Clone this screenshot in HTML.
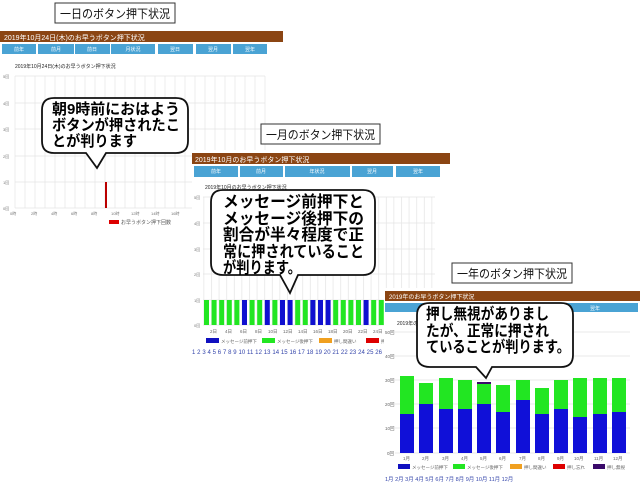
<!DOCTYPE html>
<html><head><meta charset="utf-8"><style>
html,body{margin:0;padding:0;background:#fff;width:640px;height:483px;overflow:hidden}
svg{display:block;font-family:"Liberation Sans","Noto Sans CJK JP",sans-serif}
</style></head><body>
<svg width="640" height="483" viewBox="0 0 640 483" xmlns="http://www.w3.org/2000/svg">
<defs>
<pattern id="vg" x="203.5" y="0" width="7.6" height="10" patternUnits="userSpaceOnUse"><rect x="0" y="0" width="0.7" height="10" fill="#e4e4e4"/></pattern>
</defs>
<!-- Panel 1 -->
<rect x="55" y="3" width="120" height="20" fill="#fff" stroke="#333"/>
<text x="60" y="18" font-size="12" textLength="110" lengthAdjust="spacingAndGlyphs" fill="#111">一日のボタン押下状況</text>
<rect x="0" y="31" width="283" height="11" fill="#8b4513"/>
<text x="4" y="40" font-size="7" fill="#fff">2019年10月24日(木)のお早うボタン押下状況</text>
<g fill="#4aa3d4">
<rect x="2" y="44" width="34" height="10"/><rect x="38" y="44" width="36" height="10"/><rect x="75" y="44" width="35" height="10"/><rect x="111" y="44" width="44" height="10"/><rect x="158" y="44" width="35" height="10"/><rect x="196" y="44" width="35" height="10"/><rect x="233" y="44" width="34" height="10"/>
</g>
<g font-size="5" fill="#fff" text-anchor="middle"><text x="19" y="51">前年</text><text x="56" y="51">前月</text><text x="92" y="51">前日</text><text x="133" y="51">月状況</text><text x="175" y="51">翌日</text><text x="213" y="51">翌月</text><text x="250" y="51">翌年</text></g>
<text x="15" y="68" font-size="5" fill="#222">2019年10月24日(木)のお早うボタン押下状況</text>
<g stroke="#e4e4e4" stroke-width="0.7">
<line x1="15" y1="76" x2="265" y2="76"/><line x1="15" y1="103" x2="265" y2="103"/><line x1="15" y1="129" x2="265" y2="129"/><line x1="15" y1="156" x2="265" y2="156"/><line x1="15" y1="182" x2="265" y2="182"/><line x1="15" y1="208" x2="265" y2="208"/>
<line x1="15" y1="76" x2="15" y2="208"/><line x1="25" y1="76" x2="25" y2="208"/><line x1="35" y1="76" x2="35" y2="208"/><line x1="45" y1="76" x2="45" y2="208"/><line x1="55" y1="76" x2="55" y2="208"/><line x1="65" y1="76" x2="65" y2="208"/><line x1="75" y1="76" x2="75" y2="208"/><line x1="85" y1="76" x2="85" y2="208"/><line x1="95" y1="76" x2="95" y2="208"/><line x1="105" y1="76" x2="105" y2="208"/><line x1="115" y1="76" x2="115" y2="208"/><line x1="125" y1="76" x2="125" y2="208"/><line x1="135" y1="76" x2="135" y2="208"/><line x1="145" y1="76" x2="145" y2="208"/><line x1="155" y1="76" x2="155" y2="208"/><line x1="165" y1="76" x2="165" y2="208"/><line x1="175" y1="76" x2="175" y2="208"/><line x1="185" y1="76" x2="185" y2="208"/><line x1="195" y1="76" x2="195" y2="208"/><line x1="205" y1="76" x2="205" y2="208"/><line x1="215" y1="76" x2="215" y2="208"/><line x1="225" y1="76" x2="225" y2="208"/><line x1="235" y1="76" x2="235" y2="208"/><line x1="245" y1="76" x2="245" y2="208"/><line x1="255" y1="76" x2="255" y2="208"/><line x1="265" y1="76" x2="265" y2="208"/>
</g>
<g font-size="4" fill="#777"><text x="3" y="78">5回</text><text x="3" y="105">4回</text><text x="3" y="131">3回</text><text x="3" y="158">2回</text><text x="3" y="184">1回</text><text x="3" y="210">0回</text>
<text x="10" y="215">0時</text><text x="31" y="215">2時</text><text x="51" y="215">4時</text><text x="71" y="215">6時</text><text x="91" y="215">8時</text><text x="111" y="215">10時</text><text x="131" y="215">12時</text><text x="151" y="215">14時</text><text x="171" y="215">16時</text></g>
<rect x="105" y="182" width="2" height="26" fill="#b00"/>
<rect x="109" y="220" width="10" height="4" fill="#d00"/><text x="121" y="224" font-size="5" fill="#555">お早うボタン押下回数</text>

<!-- Panel 2 -->
<rect x="192" y="150" width="258" height="210" fill="#fff"/>
<rect x="261" y="124" width="119" height="20" fill="#fff" stroke="#333"/>
<text x="266" y="139" font-size="12" textLength="109" lengthAdjust="spacingAndGlyphs" fill="#111">一月のボタン押下状況</text>
<rect x="192" y="153" width="258" height="11" fill="#8b4513"/>
<text x="195" y="162" font-size="7" fill="#fff">2019年10月のお早うボタン押下状況</text>
<g fill="#4aa3d4"><rect x="194" y="166" width="44" height="11"/><rect x="240" y="166" width="43" height="11"/><rect x="285" y="166" width="65" height="11"/><rect x="352" y="166" width="41" height="11"/><rect x="396" y="166" width="44" height="11"/></g>
<g font-size="5" fill="#fff" text-anchor="middle"><text x="216" y="173">前年</text><text x="261" y="173">前月</text><text x="317" y="173">年状況</text><text x="372" y="173">翌月</text><text x="418" y="173">翌年</text></g>
<text x="205" y="189" font-size="5" fill="#222">2019年10月のお早うボタン押下状況</text>
<rect x="203" y="197" width="232" height="128" fill="url(#vg)"/>
<g stroke="#e4e4e4" stroke-width="0.7">
<line x1="203" y1="197" x2="435" y2="197"/><line x1="203" y1="223" x2="435" y2="223"/><line x1="203" y1="249" x2="435" y2="249"/><line x1="203" y1="274" x2="435" y2="274"/><line x1="203" y1="300" x2="435" y2="300"/><line x1="203" y1="325" x2="435" y2="325"/>
</g>
<g font-size="4" fill="#777"><text x="194" y="199">5回</text><text x="194" y="225">4回</text><text x="194" y="251">3回</text><text x="194" y="276">2回</text><text x="194" y="302">1回</text><text x="194" y="327">0回</text></g>
<g fill="#22e622">
<rect x="204" y="300" width="5" height="25"/><rect x="211.6" y="300" width="5" height="25"/><rect x="219.2" y="300" width="5" height="25"/><rect x="226.8" y="300" width="5" height="25"/><rect x="234.4" y="300" width="5" height="25"/><rect x="249.6" y="300" width="5" height="25"/><rect x="257.2" y="300" width="5" height="25"/><rect x="272.4" y="300" width="5" height="25"/><rect x="295.2" y="300" width="5" height="25"/><rect x="302.8" y="300" width="5" height="25"/><rect x="310.4" y="300" width="5" height="25"/><rect x="333.2" y="300" width="5" height="25"/><rect x="340.8" y="300" width="5" height="25"/><rect x="348.4" y="300" width="5" height="25"/><rect x="356" y="300" width="5" height="25"/><rect x="371.2" y="300" width="5" height="25"/><rect x="378.8" y="300" width="5" height="25"/>
</g>
<g fill="#1010d0">
<rect x="242" y="300" width="5" height="25"/><rect x="264.8" y="300" width="5" height="25"/><rect x="280" y="300" width="5" height="25"/><rect x="287.6" y="300" width="5" height="25"/><rect x="310.4" y="300" width="5" height="25"/><rect x="318" y="300" width="5" height="25"/><rect x="325.6" y="300" width="5" height="25"/><rect x="363.6" y="300" width="5" height="25"/>
</g>
<g font-size="4.5" fill="#666"><text x="210" y="333">2日</text><text x="225" y="333">4日</text><text x="240" y="333">6日</text><text x="255" y="333">8日</text><text x="268" y="333">10日</text><text x="283" y="333">12日</text><text x="298" y="333">14日</text><text x="313" y="333">16日</text><text x="328" y="333">18日</text><text x="343" y="333">20日</text><text x="358" y="333">22日</text><text x="373" y="333">24日</text></g>
<rect x="206" y="338" width="13" height="5" fill="#1010c0"/><text x="221" y="343" font-size="4.5" fill="#666">メッセージ前押下</text>
<rect x="262" y="338" width="13" height="5" fill="#22e622"/><text x="277" y="343" font-size="4.5" fill="#666">メッセージ後押下</text>
<rect x="319" y="338" width="13" height="5" fill="#f0a020"/><text x="334" y="343" font-size="4.5" fill="#666">押し間違い</text>
<rect x="366" y="338" width="13" height="5" fill="#d00"/><text x="381" y="343" font-size="4.5" fill="#666">押し</text>
<text x="192" y="354" font-size="6" fill="#3344aa" textLength="190" lengthAdjust="spacing">1 2 3 4 5 6 7 8 9 10 11 12 13 14 15 16 17 18 19 20 21 22 23 24 25 26</text>

<!-- Panel 3 -->
<rect x="384" y="288" width="256" height="195" fill="#fff"/>
<rect x="452" y="263" width="120" height="20" fill="#fff" stroke="#333"/>
<text x="457" y="278" font-size="12" textLength="110" lengthAdjust="spacingAndGlyphs" fill="#111">一年のボタン押下状況</text>
<rect x="385" y="291" width="255" height="10" fill="#8b4513"/>
<text x="389" y="299" font-size="6" fill="#fff">2019年のお早うボタン押下状況</text>
<g fill="#4aa3d4"><rect x="385" y="303" width="77" height="9"/><rect x="465" y="303" width="87" height="9"/><rect x="554" y="303" width="84" height="9"/></g>
<text x="595" y="310" font-size="5" fill="#fff" text-anchor="middle">翌年</text>
<text x="397" y="325" font-size="5" fill="#222">2019年のお早うボタン押下状況</text>
<g stroke="#e0e0e0" stroke-width="0.7"><line x1="395" y1="332" x2="630" y2="332"/><line x1="395" y1="356" x2="630" y2="356"/><line x1="395" y1="380" x2="630" y2="380"/><line x1="395" y1="404" x2="630" y2="404"/><line x1="395" y1="428" x2="630" y2="428"/><line x1="395" y1="453" x2="630" y2="453"/></g>
<g font-size="4.5" fill="#666"><text x="385" y="334">50回</text><text x="385" y="358">40回</text><text x="385" y="382">30回</text><text x="385" y="406">20回</text><text x="385" y="430">10回</text><text x="387" y="455">0回</text></g>
<g fill="#22e622">
<rect x="400" y="376" width="14" height="77"/><rect x="419" y="383" width="14" height="70"/><rect x="439" y="378" width="14" height="75"/><rect x="458" y="380" width="14" height="73"/><rect x="477" y="383" width="14" height="70"/><rect x="496" y="385" width="14" height="68"/><rect x="516" y="380" width="14" height="73"/><rect x="535" y="388" width="14" height="65"/><rect x="554" y="380" width="14" height="73"/><rect x="573" y="378" width="14" height="75"/><rect x="593" y="378" width="14" height="75"/><rect x="612" y="378" width="14" height="75"/>
</g>
<rect x="477" y="382" width="14" height="2" fill="#3a0a6a"/>
<g fill="#1010d8">
<rect x="400" y="414" width="14" height="39"/><rect x="419" y="404" width="14" height="49"/><rect x="439" y="409" width="14" height="44"/><rect x="458" y="409" width="14" height="44"/><rect x="477" y="404" width="14" height="49"/><rect x="496" y="412" width="14" height="41"/><rect x="516" y="400" width="14" height="53"/><rect x="535" y="414" width="14" height="39"/><rect x="554" y="409" width="14" height="44"/><rect x="573" y="417" width="14" height="36"/><rect x="593" y="414" width="14" height="39"/><rect x="612" y="412" width="14" height="41"/>
</g>
<g font-size="4.5" fill="#666"><text x="403" y="460">1月</text><text x="422" y="460">2月</text><text x="442" y="460">3月</text><text x="461" y="460">4月</text><text x="480" y="460">5月</text><text x="499" y="460">6月</text><text x="519" y="460">7月</text><text x="538" y="460">8月</text><text x="557" y="460">9月</text><text x="574" y="460">10月</text><text x="594" y="460">11月</text><text x="613" y="460">12月</text></g>
<rect x="398" y="464" width="12" height="5" fill="#1010c0"/><text x="412" y="469" font-size="4.5" fill="#666">メッセージ前押下</text>
<rect x="453" y="464" width="12" height="5" fill="#22e622"/><text x="467" y="469" font-size="4.5" fill="#666">メッセージ後押下</text>
<rect x="510" y="464" width="12" height="5" fill="#f0a020"/><text x="524" y="469" font-size="4.5" fill="#666">押し間違い</text>
<rect x="553" y="464" width="12" height="5" fill="#d00"/><text x="567" y="469" font-size="4.5" fill="#666">押し忘れ</text>
<rect x="593" y="464" width="12" height="5" fill="#3a0a6a"/><text x="607" y="469" font-size="4.5" fill="#666">押し無視</text>
<text x="385" y="481" font-size="5.5" fill="#3344aa">1月 2月 3月 4月 5月 6月 7月 8月 9月 10月 11月 12月</text>

<!-- Callouts -->
<g fill="#fff" stroke="#111" stroke-width="1.8">
<path d="M54,98 H176 Q188,98 188,110 V141 Q188,153 176,153 H106 L97,168 L86,153 H54 Q42,153 42,141 V110 Q42,98 54,98 Z"/>
<path d="M223,190 H363 Q375,190 375,202 V263 Q375,275 363,275 H298 L290,293 L280,275 H223 Q211,275 211,263 V202 Q211,190 223,190 Z"/>
<path d="M430,303 H561 Q573,303 573,315 V355 Q573,367 561,367 H492 L486,378 L476,367 H430 Q417,367 417,355 V315 Q417,303 430,303 Z"/>
</g>
<g font-weight="bold" fill="#000" lengthAdjust="spacingAndGlyphs">
<g font-size="15"><text x="52" y="114" textLength="128" lengthAdjust="spacingAndGlyphs">朝9時前におはよう</text><text x="52" y="130" textLength="128" lengthAdjust="spacingAndGlyphs">ボタンが押されたこ</text><text x="52" y="146" textLength="85" lengthAdjust="spacingAndGlyphs">とが判ります</text></g>
<g font-size="16"><text x="223" y="207" textLength="141" lengthAdjust="spacingAndGlyphs">メッセージ前押下と</text><text x="223" y="224" textLength="141" lengthAdjust="spacingAndGlyphs">メッセージ後押下の</text><text x="223" y="240" textLength="141" lengthAdjust="spacingAndGlyphs">割合が半々程度で正</text><text x="223" y="257" textLength="141" lengthAdjust="spacingAndGlyphs">常に押されていること</text><text x="223" y="273" textLength="78" lengthAdjust="spacingAndGlyphs">が判ります。</text></g>
<g font-size="15.5"><text x="426" y="319" textLength="123" lengthAdjust="spacingAndGlyphs">押し無視がありまし</text><text x="426" y="336" textLength="123" lengthAdjust="spacingAndGlyphs">たが、正常に押され</text><text x="426" y="352" textLength="144" lengthAdjust="spacingAndGlyphs">ていることが判ります。</text></g>
</g>
</svg>
</body></html>
